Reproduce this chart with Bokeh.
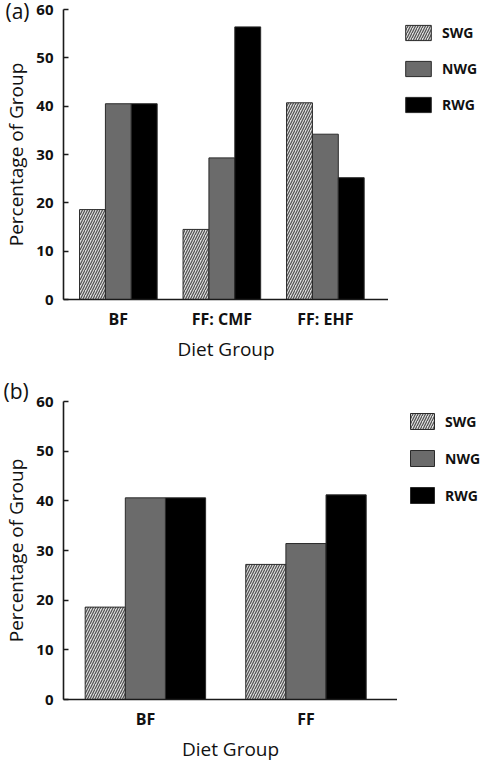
from bokeh.plotting import figure
from bokeh.models import (ColumnDataSource, Range1d, FixedTicker, Legend,
                          LegendItem)
from bokeh.transform import dodge
from bokeh.layouts import column, row
from bokeh.embed import file_html
from bokeh.resources import INLINE

# ---------------- data ----------------
series_names = ["SWG", "NWG", "RWG"]

groups_a = ["BF", "FF: CMF", "FF: EHF"]
swg_a = [18.6, 14.5, 40.7]
nwg_a = [40.5, 29.3, 34.2]
rwg_a = [40.5, 56.4, 25.2]

groups_b = ["BF", "FF"]
swg_b = [18.6, 27.2]
nwg_b = [40.6, 31.4]
rwg_b = [40.6, 41.2]

y_ticks = [0, 10, 20, 30, 40, 50, 60]

# ---------------- styles ----------------
FONT = "Open Sans"
TXT = "#111111"
BAR_STYLES = {
    "SWG": dict(fill_color="#dedede", hatch_pattern="/", hatch_color="#505050",
                hatch_scale=5, hatch_weight=1.2),
    "NWG": dict(fill_color="#6b6b6b"),
    "RWG": dict(fill_color="#000000"),
}
OFFSETS = {"SWG": -0.25, "NWG": 0.0, "RWG": 0.25}


def make_panel(tag, groups, swg, nwg, rwg, x_range, width, height,
               b_left, b_top, b_bottom, tag_standoff):
    xs = [i + 1 for i in range(len(groups))]
    src = ColumnDataSource(data=dict(x=xs, SWG=swg, NWG=nwg, RWG=rwg))

    p = figure(width=width, height=height,
               x_range=Range1d(*x_range), y_range=Range1d(0, 60),
               output_backend="svg", toolbar_location=None,
               min_border_left=b_left, min_border_top=b_top,
               min_border_right=0, min_border_bottom=b_bottom)
    p.outline_line_color = None
    p.grid.visible = False
    p.background_fill_color = "white"
    p.border_fill_color = "white"

    # panel tag "(a)" / "(b)" at the top-left corner
    p.title.text = tag
    p.title.align = "left"
    p.title.offset = -b_left
    p.title.standoff = tag_standoff
    p.title.vertical_align = "bottom"
    p.title.text_font = FONT
    p.title.text_font_size = "21px"
    p.title.text_font_style = "normal"
    p.title.text_color = TXT

    for name in series_names:
        p.vbar(x=dodge("x", OFFSETS[name]), top=name, width=0.25,
               source=src, line_color="#2a2a2a", line_width=1,
               **BAR_STYLES[name])

    for ax in (p.xaxis[0], p.yaxis[0]):
        ax.axis_line_color = "#1a1a1a"
        ax.axis_line_width = 1.6
        ax.minor_tick_line_color = None
        ax.major_label_text_font = FONT
        ax.major_label_text_font_style = "bold"
        ax.major_label_text_color = TXT
        ax.axis_label_text_font = FONT
        ax.axis_label_text_font_style = "normal"
        ax.axis_label_text_font_size = "19px"
        ax.axis_label_text_color = TXT

    xa = p.xaxis[0]
    xa.ticker = FixedTicker(ticks=xs)
    xa.major_label_overrides = {x: g for x, g in zip(xs, groups)}
    xa.major_label_text_font_size = "16px"
    xa.major_tick_line_color = None
    xa.major_tick_in = 0
    xa.major_tick_out = 0
    xa.major_label_standoff = 8
    xa.axis_label = "Diet Group"
    xa.axis_label_standoff = 3

    ya = p.yaxis[0]
    ya.ticker = FixedTicker(ticks=y_ticks)
    ya.major_label_text_font_size = "15px"
    ya.major_tick_in = 5
    ya.major_tick_out = 0
    ya.major_tick_line_color = "#1a1a1a"
    ya.major_tick_line_width = 1.6
    ya.major_label_standoff = 10
    ya.axis_label = "Percentage of Group"
    ya.axis_label_standoff = 4
    return p, src


def make_legend_fig(src, width, height, top, margin, glyph_w, glyph_h, spacing):
    lf = figure(width=width, height=height, output_backend="svg",
                toolbar_location=None, x_axis_type=None, y_axis_type=None,
                x_range=Range1d(0, 1), y_range=Range1d(0, 1),
                min_border=0, min_border_top=top)
    lf.outline_line_color = None
    lf.grid.visible = False
    lf.border_fill_color = "white"
    items = []
    for name in series_names:
        r = lf.vbar(x="x", top=name, width=0.25, source=src,
                    line_color="#2a2a2a", line_width=1, visible=False,
                    **BAR_STYLES[name])
        items.append(LegendItem(label=name, renderers=[r]))
    legend = Legend(items=items, location="top_left", margin=margin, padding=0,
                    glyph_width=glyph_w, glyph_height=glyph_h,
                    label_height=glyph_h, label_standoff=8, spacing=spacing,
                    label_text_font=FONT, label_text_font_style="bold",
                    label_text_font_size="14px", label_text_color=TXT,
                    border_line_color=None, background_fill_alpha=0,
                    inactive_fill_alpha=0)
    lf.add_layout(legend)
    return lf


# row (a): 364 px tall ; row (b): 400 px tall  -> 764 in total
p1, s1 = make_panel("(a)", groups_a, swg_a, nwg_a, rwg_a, (0.47, 3.61),
                    388, 364, 58, 9, 60, -30)
l1 = make_legend_fig(s1, 95, 364, 7, 14, 32, 19, 17)

p2, s2 = make_panel("(b)", groups_b, swg_b, nwg_b, rwg_b, (0.49, 2.57),
                    397, 400, 60, 0, 60, -7)
l2 = make_legend_fig(s2, 86, 400, 37, 10, 30, 20, 17)

layout = column(row(p1, l1, spacing=0), row(p2, l2, spacing=0), spacing=0)
open("out.html", "w").write(file_html(layout, INLINE))
